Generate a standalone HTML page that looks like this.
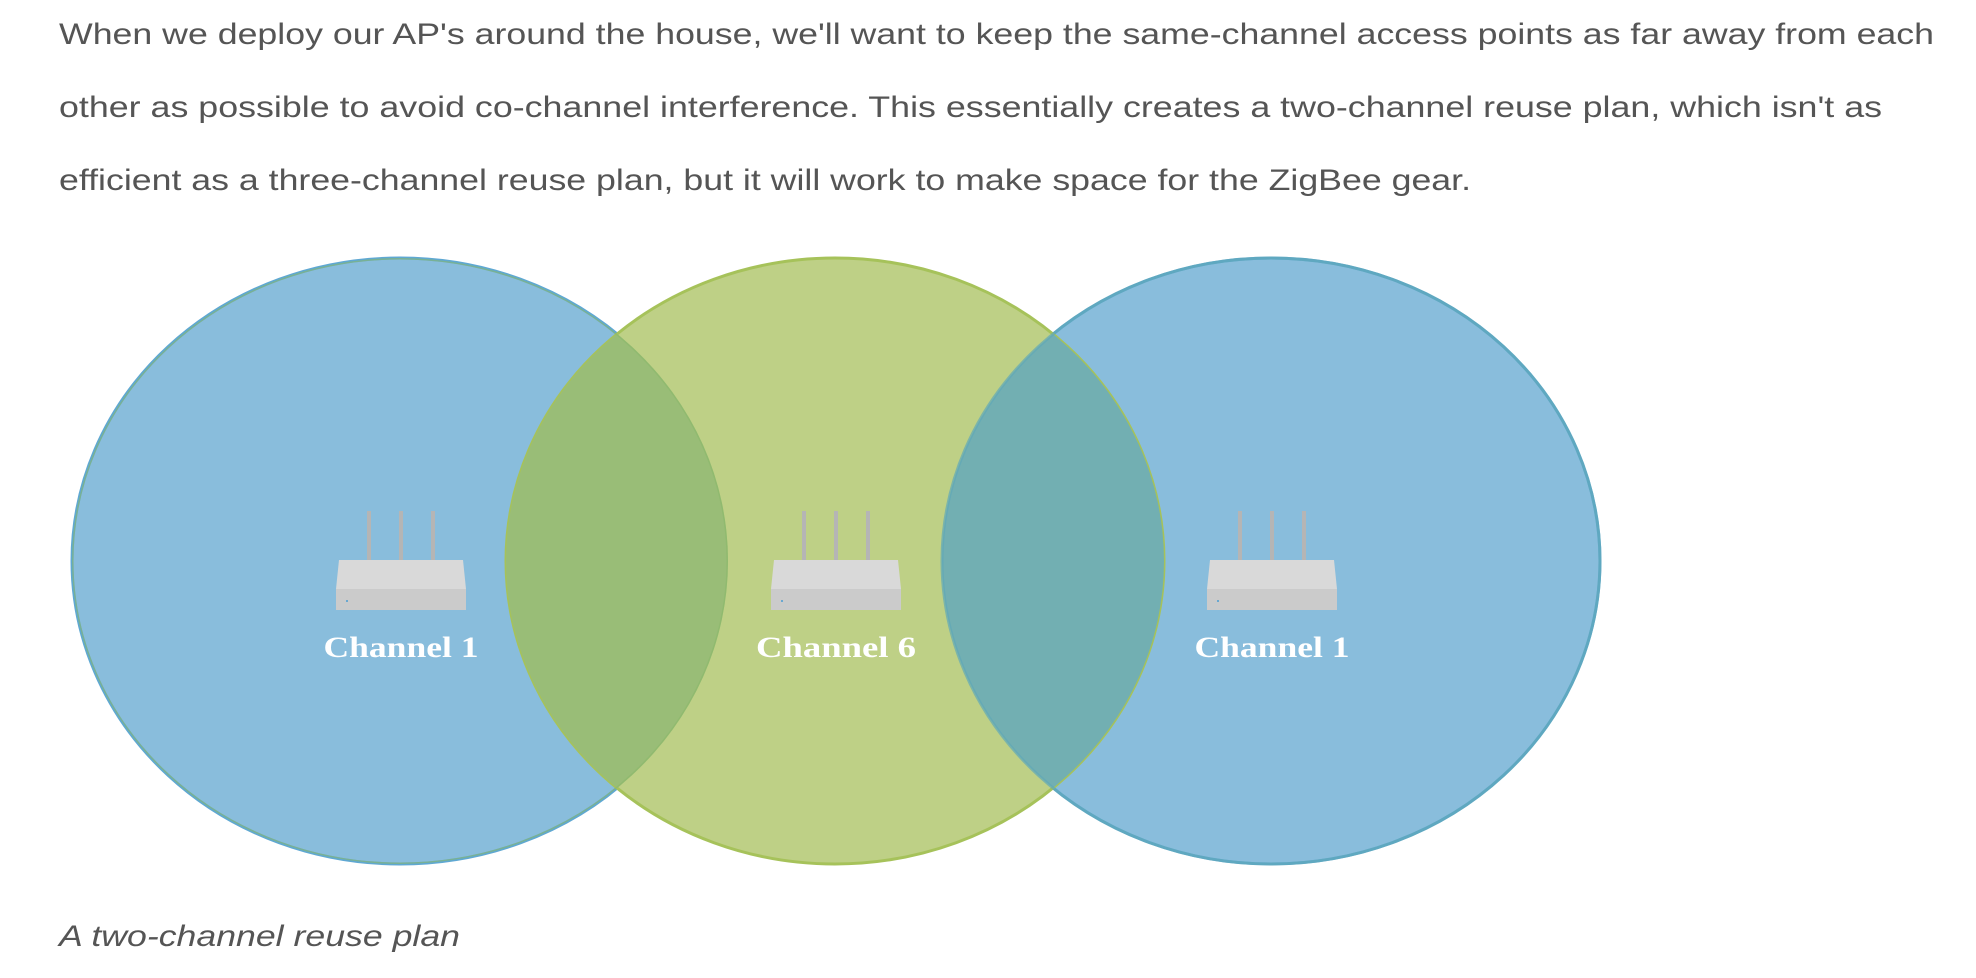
<!DOCTYPE html>
<html><head><style>
html,body{margin:0;padding:0;background:#fff;width:1976px;height:978px;overflow:hidden}
</style></head><body>
<svg width="1976" height="978" xmlns="http://www.w3.org/2000/svg">
<defs>
<clipPath id="cl"><ellipse cx="400" cy="561" rx="328" ry="303"/></clipPath>
<clipPath id="cr"><ellipse cx="1271" cy="561" rx="329" ry="303"/></clipPath>
<g id="router">
<rect x="-34" y="-49" width="4" height="50" fill="#b5b5b5"/>
<rect x="-2" y="-49" width="4" height="50" fill="#b5b5b5"/>
<rect x="30" y="-49" width="4" height="50" fill="#b5b5b5"/>
<polygon points="-62,0 62,0 65,29 -65,29" fill="#d9d9d9"/>
<rect x="-65" y="29" width="130" height="21" fill="#cbcbcb"/>
<rect x="-55" y="40" width="2" height="2" fill="#6aa8d0"/>
</g>
</defs>
<g font-family="Liberation Sans, sans-serif" font-size="30" fill="#555">
<text x="59" y="44" textLength="1875" lengthAdjust="spacingAndGlyphs">When we deploy our AP's around the house, we'll want to keep the same-channel access points as far away from each</text>
<text x="59" y="117" textLength="1823" lengthAdjust="spacingAndGlyphs">other as possible to avoid co-channel interference. This essentially creates a two-channel reuse plan, which isn't as</text>
<text x="59" y="190" textLength="1412" lengthAdjust="spacingAndGlyphs">efficient as a three-channel reuse plan, but it will work to make space for the ZigBee gear.</text>
<text x="59" y="946" font-style="italic" textLength="401" lengthAdjust="spacingAndGlyphs">A two-channel reuse plan</text>
</g>
<ellipse cx="400" cy="561" rx="328" ry="303" fill="#89bddc" stroke="#5fa8d3" stroke-width="3"/>
<ellipse cx="1271" cy="561" rx="329" ry="303" fill="#89bddc" stroke="#5fa8d3" stroke-width="3"/>
<ellipse cx="835" cy="561" rx="329" ry="303" fill="#bed086" stroke="#a6c25a" stroke-width="3"/>
<ellipse cx="835" cy="561" rx="329" ry="303" fill="#99bd77" clip-path="url(#cl)"/>
<ellipse cx="835" cy="561" rx="329" ry="303" fill="#72afb2" clip-path="url(#cr)"/>
<ellipse cx="400" cy="561" rx="328" ry="303" fill="none" stroke="#8ab86a" stroke-width="3" clip-path="url(#cl)" opacity="0.6"/>
<ellipse cx="1271" cy="561" rx="329" ry="303" fill="none" stroke="#5fa8b8" stroke-width="3" opacity="0.7"/>
<use href="#router" x="401" y="560"/>
<use href="#router" x="836" y="560"/>
<use href="#router" x="1272" y="560"/>
<g font-family="Liberation Serif, serif" font-weight="bold" font-size="30" fill="#fff" text-anchor="middle">
<text x="401" y="657" textLength="155" lengthAdjust="spacingAndGlyphs">Channel 1</text>
<text x="836" y="657" textLength="160" lengthAdjust="spacingAndGlyphs">Channel 6</text>
<text x="1272" y="657" textLength="155" lengthAdjust="spacingAndGlyphs">Channel 1</text>
</g>
</svg>
</body></html>
